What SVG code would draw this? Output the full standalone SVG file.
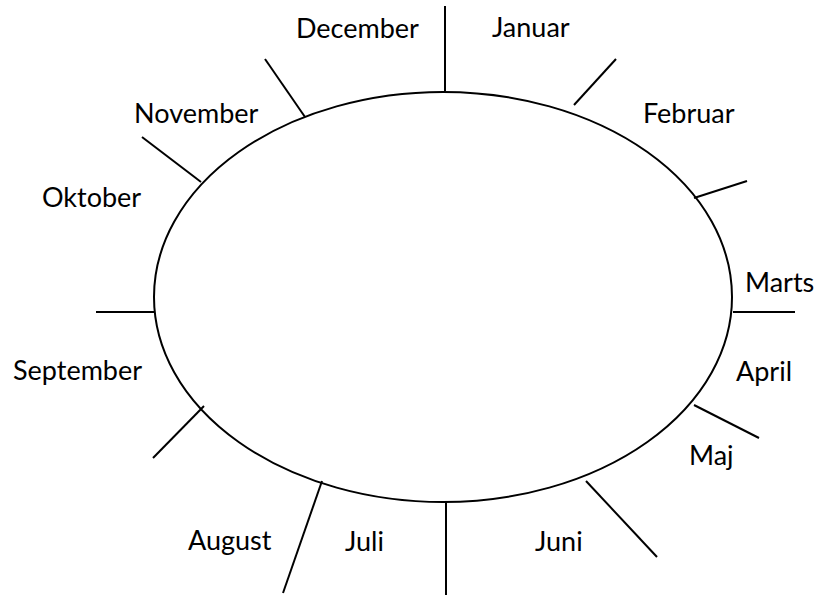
<svg xmlns="http://www.w3.org/2000/svg" width="815" height="596" viewBox="0 0 815 596">
<style>
.l{stroke:#000;stroke-width:2;fill:none}
.t{font-family:Lato,"Open Sans","Liberation Sans",sans-serif;font-size:27px;fill:#000}
</style>
<rect width="815" height="596" fill="#fff"/>
<g id="circle"><ellipse class="l" cx="443" cy="297" rx="289" ry="205"/></g>
<g id="connectors">
<line class="l" x1="445" y1="6" x2="445" y2="91"/>
<line class="l" x1="265" y1="59" x2="305" y2="117"/>
<line class="l" x1="142" y1="137" x2="201" y2="182"/>
<line class="l" x1="616" y1="59" x2="574" y2="105"/>
<line class="l" x1="747" y1="181" x2="694" y2="198"/>
<line class="l" x1="733" y1="312" x2="795" y2="312"/>
<line class="l" x1="96" y1="312" x2="154" y2="312"/>
<line class="l" x1="204" y1="406" x2="153" y2="458"/>
<line class="l" x1="322" y1="481" x2="283" y2="593"/>
<line class="l" x1="446" y1="502" x2="446" y2="595"/>
<line class="l" x1="586" y1="481" x2="657" y2="557"/>
<line class="l" x1="694" y1="405" x2="759" y2="438"/>
</g>
<g id="januar"><text class="t" x="492" y="37">Januar</text></g>
<g id="februar"><text class="t" x="643" y="123">Februar</text></g>
<g id="marts"><text class="t" x="745" y="292">Marts</text></g>
<g id="april"><text class="t" x="736" y="381">April</text></g>
<g id="maj"><text class="t" x="689" y="465">Maj</text></g>
<g id="juni"><text class="t" x="535" y="551">Juni</text></g>
<g id="juli"><text class="t" x="345" y="551">Juli</text></g>
<g id="august"><text class="t" x="188" y="550">August</text></g>
<g id="september"><text class="t" x="13" y="380">September</text></g>
<g id="oktober"><text class="t" x="42" y="207">Oktober</text></g>
<g id="november"><text class="t" x="134" y="123">November</text></g>
<g id="december"><text class="t" x="296" y="38">December</text></g>
</svg>
